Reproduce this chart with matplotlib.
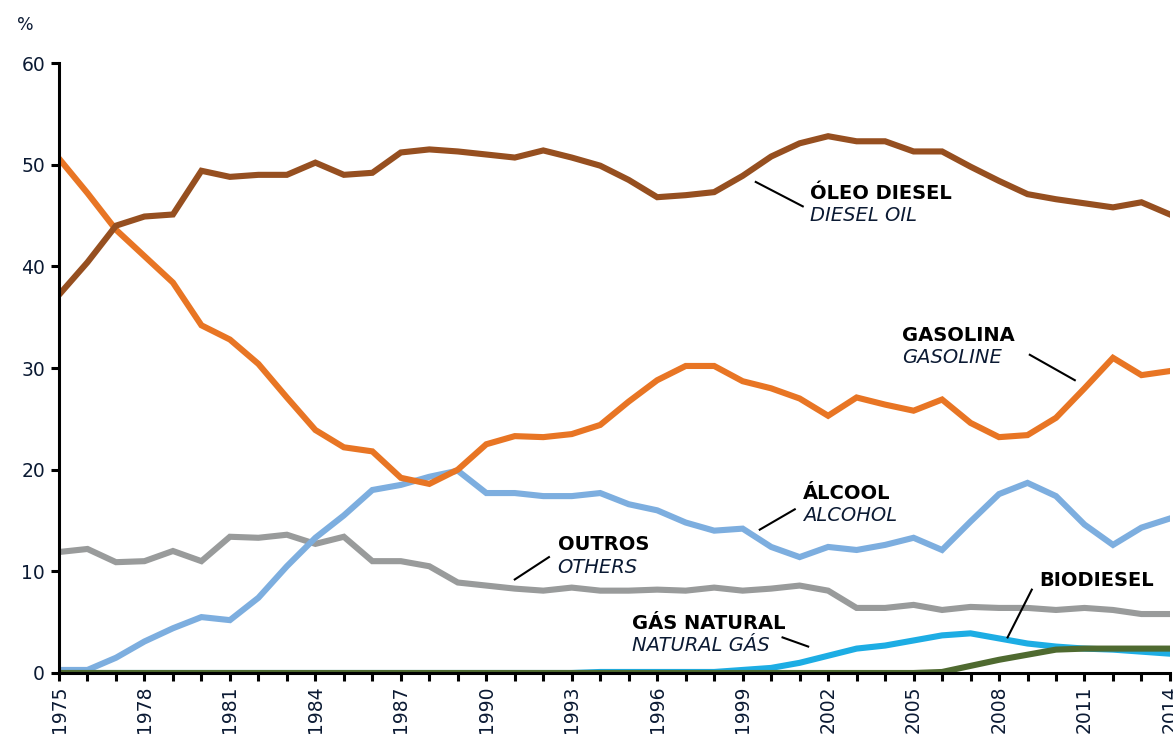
import matplotlib
matplotlib.use("Agg")
import matplotlib.pyplot as plt
from matplotlib.ticker import MultipleLocator

years = list(range(1975, 2015))

diesel = [37.2, 40.4, 44.0, 44.9, 45.1, 49.4, 48.8, 49.0, 49.0, 50.2,
          49.0, 49.2, 51.2, 51.5, 51.3, 51.0, 50.7, 51.4, 50.7, 49.9,
          48.5, 46.8, 47.0, 47.3, 48.9, 50.8, 52.1, 52.8, 52.3, 52.3,
          51.3, 51.3, 49.8, 48.4, 47.1, 46.6, 46.2, 45.8, 46.3, 45.1]

gasoline = [50.6, 47.2, 43.6, 41.0, 38.4, 34.2, 32.8, 30.4, 27.1, 23.9,
            22.2, 21.8, 19.2, 18.6, 20.0, 22.5, 23.3, 23.2, 23.5, 24.4,
            26.7, 28.8, 30.2, 30.2, 28.7, 28.0, 27.0, 25.3, 27.1, 26.4,
            25.8, 26.9, 24.6, 23.2, 23.4, 25.1, 28.0, 31.0, 29.3, 29.7]

alcohol = [0.3, 0.3, 1.5, 3.1, 4.4, 5.5, 5.2, 7.4, 10.5, 13.3,
           15.5, 18.0, 18.5, 19.3, 19.9, 17.7, 17.7, 17.4, 17.4, 17.7,
           16.6, 16.0, 14.8, 14.0, 14.2, 12.4, 11.4, 12.4, 12.1, 12.6,
           13.3, 12.1, 14.9, 17.6, 18.7, 17.4, 14.6, 12.6, 14.3, 15.2]

others = [11.9, 12.2, 10.9, 11.0, 12.0, 11.0, 13.4, 13.3, 13.6, 12.7,
          13.4, 11.0, 11.0, 10.5, 8.9, 8.6, 8.3, 8.1, 8.4, 8.1,
          8.1, 8.2, 8.1, 8.4, 8.1, 8.3, 8.6, 8.1, 6.4, 6.4,
          6.7, 6.2, 6.5, 6.4, 6.4, 6.2, 6.4, 6.2, 5.8, 5.8]

natural_gas = [0.0, 0.0, 0.0, 0.0, 0.0, 0.0, 0.0, 0.0, 0.0, 0.0,
               0.0, 0.0, 0.0, 0.0, 0.0, 0.0, 0.0, 0.0, 0.0, 0.1,
               0.1, 0.1, 0.1, 0.1, 0.3, 0.5, 1.0, 1.7, 2.4, 2.7,
               3.2, 3.7, 3.9, 3.4, 2.9, 2.6, 2.4, 2.3, 2.1, 1.9]

biodiesel = [0.0] * 31 + [0.1, 0.7, 1.3, 1.8, 2.3, 2.4, 2.4, 2.4, 2.4]

year_ticks = list(range(1975, 2015, 3))
y_ticks = [0, 10, 20, 30, 40, 50, 60]

c_diesel = "#964F20"
c_gasoline = "#E87524"
c_alcohol = "#7DAEDF"
c_others = "#999B9B"
c_gas = "#1DADE4"
c_bio = "#4F6A30"

fig = plt.figure(figsize=(11.73, 7.36), dpi=100)
ax = fig.add_axes([0.0503, 0.0856, 0.9471, 0.8288])

lw = 4.4
ax.plot(years, others, color=c_others, lw=lw, solid_joinstyle="miter")
ax.plot(years, alcohol, color=c_alcohol, lw=lw, solid_joinstyle="miter")
ax.plot(years, gasoline, color=c_gasoline, lw=lw, solid_joinstyle="miter")
ax.plot(years, diesel, color=c_diesel, lw=lw, solid_joinstyle="miter")
ax.plot(years, natural_gas, color=c_gas, lw=lw, solid_joinstyle="miter")
ax.plot(years, biodiesel, color=c_bio, lw=lw, solid_joinstyle="miter")

ax.set_xlim(1975, 2014)
ax.set_ylim(0, 60)
ax.set_xticks(year_ticks)
ax.set_xticklabels([str(y) for y in year_ticks], rotation=90)
ax.xaxis.set_minor_locator(MultipleLocator(1))
ax.set_yticks(y_ticks)
ax.tick_params(axis="both", which="both", direction="out", length=6, width=2.2,
               labelsize=13.5, colors="black")
ax.tick_params(axis="y", labelcolor="#0b1a33", pad=4)
ax.tick_params(axis="x", labelcolor="#0b1a33", pad=3)
for s in ["top", "right"]:
    ax.spines[s].set_visible(False)
for s in ["left", "bottom"]:
    ax.spines[s].set_linewidth(2.2)

fig.text(25 / 1173, 1 - 25 / 736, "%", fontsize=12.5, ha="center", va="center", color="#0b1a33")

bold = dict(fontsize=14, fontweight="bold", color="black", va="center", ha="left")
ital = dict(fontsize=14, fontstyle="italic", color="#0b1a33", va="center", ha="left")

labels = [
    ("ÓLEO DIESEL", "DIESEL OIL", 2001.36, 47.2, 45.0, (1999.46, 48.3), (2001.11, 45.9)),
    ("GASOLINA", "GASOLINE", 2004.59, 33.2, 31.0, (2009.08, 31.3), (2010.66, 28.8)),
    ("ÁLCOOL", "ALCOHOL", 2001.11, 17.7, 15.5, (1999.6, 14.1), (2000.83, 16.1)),
    ("OUTROS", "OTHERS", 1992.5, 12.6, 10.4, (1991.0, 9.2), (1992.2, 11.4)),
    ("GÁS NATURAL", "NATURAL GÁS", 1995.1, 4.9, 2.75, (2000.4, 3.5), (2001.3, 2.6)),
    ("BIODIESEL", None, 2009.4, 9.1, None, (2009.15, 8.2), (2008.3, 3.5)),
]
for b, it, x, yb, yi, p1, p2 in labels:
    ax.text(x, yb, b, **bold)
    if it:
        ax.text(x, yi, it, **ital)
    ax.plot([p1[0], p2[0]], [p1[1], p2[1]], color="black", lw=1.5, clip_on=False)

fig.savefig("out.png", dpi=100)
